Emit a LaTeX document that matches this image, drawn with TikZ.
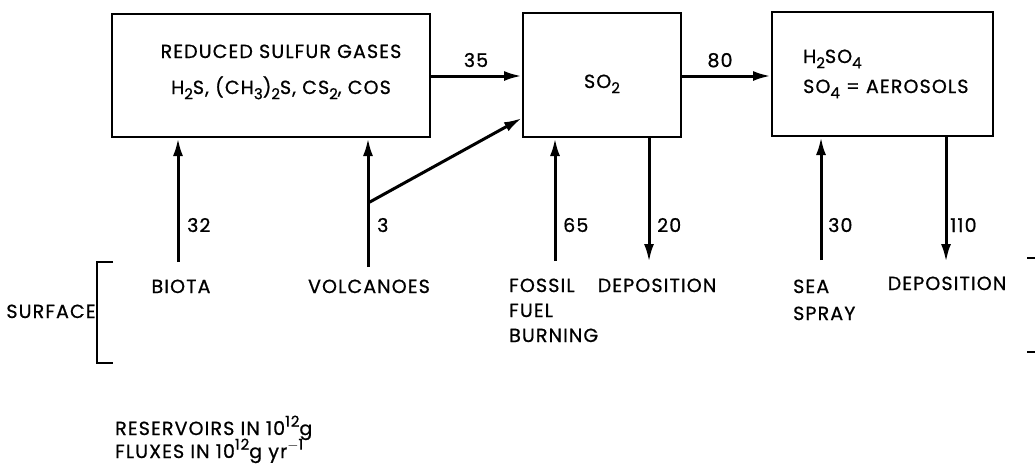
\documentclass[tikz,border=0pt]{standalone}
\usepackage{fontspec}
\setmainfont{Poppins}[FakeBold=0.8,LetterSpace=6]
\usetikzlibrary{arrows.meta,calc}
\newcommand\mysub[1]{\raisebox{-0.5ex}{\fontsize{15}{15}\selectfont #1}}
\newcommand\mysup[1]{\raisebox{0.8ex}{\fontsize{15}{15}\selectfont #1}}
\begin{document}
\begin{tikzpicture}[x=1pt,y=-1pt,
  every node/.style={font=\fontsize{19}{25}\selectfont, inner sep=0pt},
  box/.style={draw, line width=2pt, fill=none},
  flux/.style={line width=3pt, -{Latex[length=18pt,width=10pt]}},
  plain/.style={line width=2pt},
  lab/.style={anchor=base west},
  ctext/.style={anchor=base}]
\useasboundingbox (0,0) rectangle (1035,472);
% boxes
\node[box, minimum width=318pt, minimum height=123pt] (b1) at (271,75.5) {};
\node[box, minimum width=158pt, minimum height=124pt] (b2) at (602,75) {};
\node[box, minimum width=221pt, minimum height=124pt] (b3) at (882.5,74) {};
% box texts
\node[ctext] (t1a) at (281,58) {REDUCED SULFUR GASES};
\node[ctext] (t1b) at (281,94) {H\mysub{2}S, (CH\mysub{3})\mysub{2}S, CS\mysub{2}, COS};
\node[ctext] (t2) at (602,88) {SO\mysub{2}};
\node[lab] (t3a) at (803,63) {H\mysub{2}SO\mysub{4}};
\node[lab] (t3b) at (803,93) {SO\mysub{4} = AEROSOLS};
% horizontal fluxes
\coordinate (a35) at (b1.east |- 0,76);
\coordinate (a80) at (b2.east |- 0,76);
\draw[flux] (a35) -- (b2.west |- a35);
\draw[flux] (a80) -- (b3.west |- a80);
\node[ctext] (n35) at (476,67) {35};
\node[ctext] (n80) at (720,67) {80};
% sources
\coordinate (pbio) at (178,262);
\coordinate (pvol) at (368,267);
\coordinate (pbr) at (368,203);
\coordinate (pfos) at (555,261);
\coordinate (pdep1) at (649,262);
\coordinate (psea) at (821,260);
\coordinate (pdep2) at (946,262);
\coordinate (pso) at (b2.west |- 0,118);
\draw[flux] (pbio) -- (b1.south -| pbio);
\draw[flux] (pvol) -- (b1.south -| pvol);
\draw[flux] (pbr) -- (pso);
\draw[flux] (pfos) -- (b2.south -| pfos);
\draw[flux] (b2.south -| pdep1) -- (pdep1);
\draw[flux] (psea) -- (b3.south -| psea);
\draw[flux] (b3.south -| pdep2) -- (pdep2);
% flux labels
\node[lab] (n32) at (187,232) {32};
\node[lab] (n3) at (377,232) {3};
\node[lab] (n65) at (563,232) {65};
\node[lab] (n20) at (657,232) {20};
\node[lab] (n30) at (828,232) {30};
\node[lab] (n110) at (950,232) {110};
% surface labels
\node[ctext] (biota) at (181,293) {BIOTA};
\node[ctext] (volc) at (369,293) {VOLCANOES};
\node[lab] (fossil1) at (509,292) {FOSSIL};
\node[lab] (fossil2) at (509,317) {FUEL};
\node[lab] (fossil3) at (509,342) {BURNING};
\node[ctext] (dep1) at (657,292) {DEPOSITION};
\node[lab] (sea1) at (793,293) {SEA};
\node[lab] (sea2) at (793,320) {SPRAY};
\node[ctext] (dep2) at (947,290) {DEPOSITION};
\node[ctext] (surf) at (51,318) {SURFACE};
% brackets
\coordinate (bl1) at (113,262);
\coordinate (bl2) at (97,262);
\coordinate (bl3) at (97,363);
\coordinate (bl4) at (113,363);
\draw[plain] (bl1) -- (bl2) -- (bl3) -- (bl4);
\coordinate (br1) at (1027,258);
\coordinate (br2) at (1035,258);
\coordinate (br3) at (1027,352);
\coordinate (br4) at (1035,352);
\draw[plain] (br1) -- (br2);
\draw[plain] (br3) -- (br4);
% legend
\node[lab] (leg1) at (115,435) {RESERVOIRS IN 10\mysup{12}g};
\node[lab] (leg2) at (115,458) {FLUXES IN 10\mysup{12}g yr\mysup{$-$1}};
\end{tikzpicture}
\end{document}
